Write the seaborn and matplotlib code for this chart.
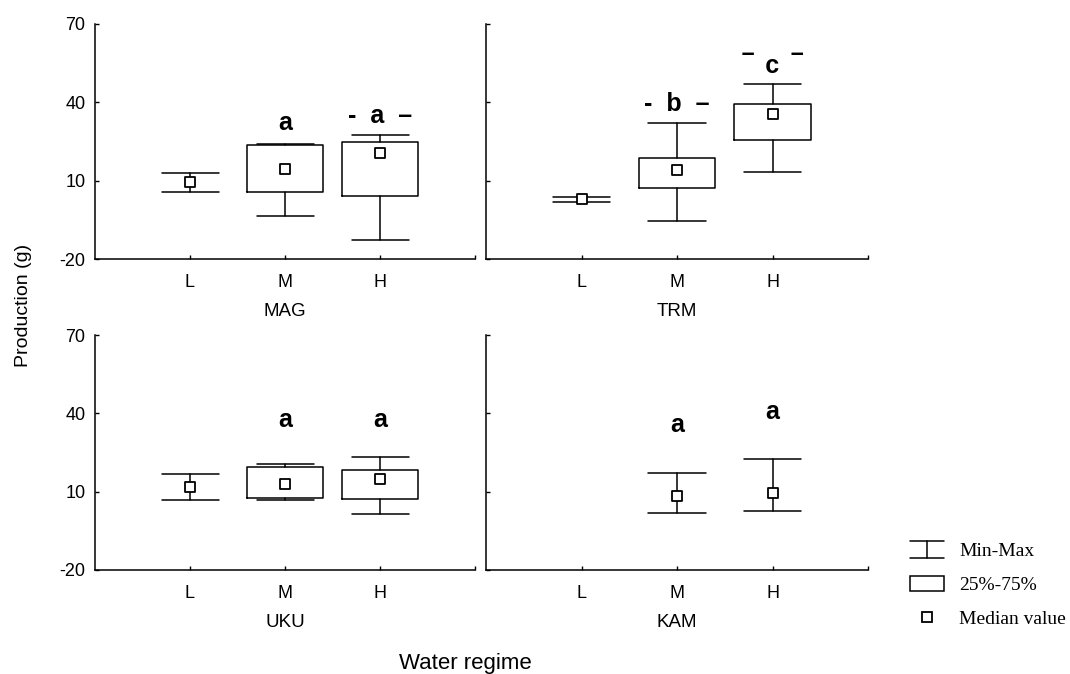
import numpy as np
import pandas as pd
import matplotlib
matplotlib.use("Agg")
import matplotlib.pyplot as plt
from matplotlib.lines import Line2D
from matplotlib.patches import Rectangle
from matplotlib.legend_handler import HandlerBase
import seaborn as sns

# ---------------- data ----------------
categories = ["L", "M", "H"]
panels = ["MAG", "TRM", "UKU", "KAM"]

mag_min = [5.5, -3.6, -12.6]
mag_q1 = [np.nan, 5.5, 4.0]
mag_med = [9.4, 14.4, 20.5]
mag_q3 = [np.nan, 23.7, 24.7]
mag_max = [13.1, 23.9, 27.5]

trm_min = [1.7, -5.6, 13.3]
trm_q1 = [np.nan, 7.3, 25.6]
trm_med = [2.8, 13.9, 35.5]
trm_q3 = [np.nan, 18.75, 39.5]
trm_max = [3.7, 32.0, 47.1]

uku_min = [6.8, 7.0, 1.4]
uku_q1 = [np.nan, 7.4, 7.1]
uku_med = [11.7, 12.9, 14.8]
uku_q3 = [np.nan, 19.6, 18.2]
uku_max = [16.8, 20.6, 23.4]

kam_min = [np.nan, 1.7, 2.7]
kam_q1 = [np.nan, np.nan, np.nan]
kam_med = [np.nan, 8.5, 9.4]
kam_q3 = [np.nan, np.nan, np.nan]
kam_max = [np.nan, 17.1, 22.6]

mag_letters = ["", "a", "-  a  \u2013"]
mag_letter_y = [np.nan, 29.5, 32.0]
trm_letters = ["", "-  b  \u2013", "\u203e  c  \u203e"]
trm_letter_y = [np.nan, 36.5, 51.1]
uku_letters = ["", "a", "a"]
uku_letter_y = [np.nan, 34.9, 34.9]
kam_letters = ["", "a", "a"]
kam_letter_y = [np.nan, 33.0, 37.7]

y_ticks = [-20, 10, 40, 70]

panel_data = {
    "MAG": (mag_min, mag_q1, mag_med, mag_q3, mag_max, mag_letters, mag_letter_y),
    "TRM": (trm_min, trm_q1, trm_med, trm_q3, trm_max, trm_letters, trm_letter_y),
    "UKU": (uku_min, uku_q1, uku_med, uku_q3, uku_max, uku_letters, uku_letter_y),
    "KAM": (kam_min, kam_q1, kam_med, kam_q3, kam_max, kam_letters, kam_letter_y),
}

# ---------------- style ----------------
sns.set_theme(style="ticks")
plt.rcParams["font.family"] = ["Liberation Sans", "DejaVu Sans"]
plt.rcParams["axes.linewidth"] = 1.1
plt.rcParams["axes.edgecolor"] = "black"
plt.rcParams["text.color"] = "black"
plt.rcParams["axes.labelcolor"] = "black"
plt.rcParams["xtick.color"] = "black"
plt.rcParams["ytick.color"] = "black"

fig = plt.figure(figsize=(10.70, 6.74), dpi=100)
W, H = 1070, 674

def rect(x0, x1, ytop, ybot):
    return [x0 / W, 1 - ybot / H, (x1 - x0) / W, (ybot - ytop) / H]

rects = {
    "MAG": rect(95, 475, 24, 259),
    "TRM": rect(486, 868, 24, 259),
    "UKU": rect(95, 475, 335, 570),
    "KAM": rect(486, 868, 335, 570),
}

lw = 1.1
for name in panels:
    mn, q1, md, q3, mx, letters, letter_y = panel_data[name]
    ax = fig.add_axes(rects[name])
    pos = np.arange(len(categories))

    box_stats, box_pos, nobox_stats, nobox_pos = [], [], [], []
    for i in range(len(categories)):
        if np.isnan(md[i]):
            continue
        has_box = not np.isnan(q1[i])
        st = dict(med=md[i],
                  q1=q1[i] if has_box else md[i],
                  q3=q3[i] if has_box else md[i],
                  whislo=mn[i], whishi=mx[i], fliers=[])
        if has_box:
            box_stats.append(st); box_pos.append(pos[i])
        else:
            nobox_stats.append(st); nobox_pos.append(pos[i])

    common = dict(widths=0.8, capwidths=0.6, manage_ticks=False,
                  whiskerprops=dict(color="black", lw=lw),
                  capprops=dict(color="black", lw=lw),
                  medianprops=dict(linestyle="none"),
                  boxprops=dict(color="black", lw=lw))
    if box_stats:
        ax.bxp(box_stats, positions=box_pos, showbox=True, **common)
    if nobox_stats:
        ax.bxp(nobox_stats, positions=nobox_pos, showbox=False, **common)

    df = pd.DataFrame({"x": pos, "median": md}).dropna()
    sns.scatterplot(data=df, x="x", y="median", marker="s", s=52,
                    facecolor="white", edgecolor="black", linewidth=1.3,
                    ax=ax, zorder=5, legend=False)

    for i, lab in enumerate(letters):
        if lab:
            ax.text(pos[i], letter_y[i], lab, ha="center", va="baseline",
                    fontsize=18, fontweight="bold", color="black")

    ax.set_xlim(-1, 3)
    ax.set_ylim(-20, 70)
    ax.set_xticks(pos)
    ax.set_xticks([3], minor=True)
    ax.set_yticks(y_ticks)
    ax.set_xticklabels(categories, fontsize=13)
    if name in ("MAG", "UKU"):
        ax.set_yticklabels([str(t) for t in y_ticks], fontsize=13)
    else:
        ax.set_yticklabels([])
    ax.tick_params(axis="x", which="both", direction="in", length=3, width=1,
                   pad=11, colors="black")
    ax.tick_params(axis="y", which="both", direction="in", length=3, width=1,
                   pad=7, colors="black")
    ax.set_xlabel(name, fontsize=13.5, va="center")
    ax.xaxis.set_label_coords(0.5, -0.2255)
    ax.set_ylabel("")
    sns.despine(ax=ax)
    ax.set_facecolor("white")

fig.text(24 / W, 1 - 305 / H, "Production (g)", rotation=90, ha="center",
         va="center", fontsize=14)
fig.text(465 / W, 1 - 663 / H, "Water regime", ha="center", va="center",
         fontsize=16)


class HandlerMinMax(HandlerBase):
    def create_artists(self, legend, orig_handle, xdescent, ydescent,
                       width, height, fontsize, trans):
        x0, x1 = -xdescent, -xdescent + width
        xm = (x0 + x1) / 2
        yb = -ydescent - 0.05 * height
        yt = -ydescent + 1.05 * height
        arts = [Line2D([x0, x1], [yt, yt]), Line2D([xm, xm], [yb, yt]),
                Line2D([x0, x1], [yb, yb])]
        for a in arts:
            a.set_color("black"); a.set_linewidth(1.1); a.set_transform(trans)
        return arts


h_minmax = Line2D([], [], color="black")
h_box = Rectangle((0, 0), 1, 1, facecolor="white", edgecolor="black", lw=1.1)
h_med = Line2D([], [], marker="s", linestyle="none", markersize=6.5,
               markerfacecolor="white", markeredgecolor="black",
               markeredgewidth=1.3)
fig.legend([h_minmax, h_box, h_med], ["Min-Max", "25%-75%", "Median value"],
           handler_map={h_minmax: HandlerMinMax()},
           loc="center left", bbox_to_anchor=(900 / W, 1 - 585 / H),
           frameon=False, prop={"family": "Liberation Serif", "size": 14},
           handlelength=1.75, handleheight=0.85, handletextpad=0.8,
           labelspacing=0.8, borderpad=0)

fig.savefig("out.png", dpi=100, facecolor="white")
